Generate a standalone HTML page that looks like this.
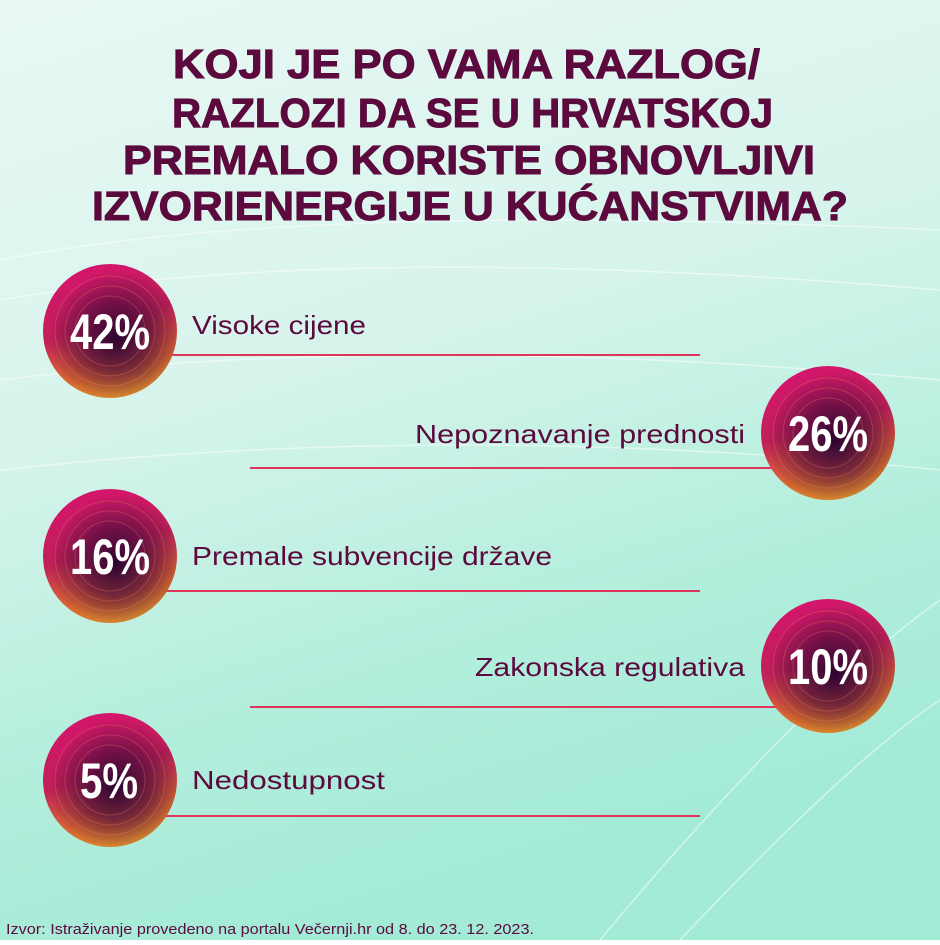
<!DOCTYPE html>
<html><head><meta charset="utf-8"><style>
html,body{margin:0;padding:0}
body{width:940px;height:940px;overflow:hidden}
</style></head><body>
<svg width="940" height="940" viewBox="0 0 940 940" xmlns="http://www.w3.org/2000/svg">
<defs>
<linearGradient id="bg" x1="0" y1="0" x2="0.3" y2="1">
<stop offset="0" stop-color="#eaf8f4"/>
<stop offset="0.45" stop-color="#d6f4ec"/>
<stop offset="0.75" stop-color="#b4eedd"/>
<stop offset="1" stop-color="#a3ebd7"/>
</linearGradient>
<linearGradient id="cg" x1="0.3" y1="0" x2="0.6" y2="1">
<stop offset="0" stop-color="#d6146e"/>
<stop offset="0.45" stop-color="#c02058"/>
<stop offset="0.8" stop-color="#e0702e"/>
<stop offset="1" stop-color="#f0a02a"/>
</linearGradient>
<radialGradient id="cd" cx="0.55" cy="0.55" r="0.5">
<stop offset="0" stop-color="#2a0530" stop-opacity="1"/>
<stop offset="0.5" stop-color="#4a0a3c" stop-opacity="0.7"/>
<stop offset="1" stop-color="#4a0a3c" stop-opacity="0"/>
</radialGradient>
<g id="circ">
<circle r="67" fill="url(#cg)"/>
<circle r="67" fill="url(#cd)"/>
<circle r="55" fill="none" stroke="#ff9a60" stroke-opacity="0.25" stroke-width="1"/>
<circle r="45" fill="none" stroke="#ff9a60" stroke-opacity="0.25" stroke-width="1"/>
<circle r="35" fill="none" stroke="#ff9a60" stroke-opacity="0.25" stroke-width="1"/>
</g>
</defs>
<rect width="940" height="940" fill="url(#bg)"/>
<g fill="none" stroke="#ffffff" stroke-opacity="0.5" stroke-width="1.5">
<path d="M0 260 Q300 200 940 230"/>
<path d="M0 300 Q350 240 940 290"/>
<path d="M0 380 Q400 330 940 380"/>
<path d="M0 470 Q450 420 940 470"/>
<path d="M600 940 Q800 700 940 600"/>
<path d="M680 940 Q850 760 940 700"/>
</g>
<g font-family="'Liberation Sans',sans-serif" font-weight="bold" fill="#5c0a3e" font-size="41" stroke="#5c0a3e" stroke-width="1">
<text x="173" y="78" textLength="587" lengthAdjust="spacingAndGlyphs">KOJI JE PO VAMA RAZLOG/</text>
<text x="172" y="127" textLength="601" lengthAdjust="spacingAndGlyphs">RAZLOZI DA SE U HRVATSKOJ</text>
<text x="123" y="174" textLength="692" lengthAdjust="spacingAndGlyphs">PREMALO KORISTE OBNOVLJIVI</text>
<text x="92" y="220" textLength="756" lengthAdjust="spacingAndGlyphs">IZVORIENERGIJE U KUĆANSTVIMA?</text>
</g>
<g stroke="#e0345a" stroke-width="2">
<line x1="165" y1="355" x2="700" y2="355"/>
<line x1="250" y1="468" x2="780" y2="468"/>
<line x1="165" y1="591" x2="700" y2="591"/>
<line x1="250" y1="707" x2="780" y2="707"/>
<line x1="165" y1="816" x2="700" y2="816"/>
</g>
<use href="#circ" x="110" y="331"/>
<use href="#circ" x="828" y="433"/>
<use href="#circ" x="110" y="556"/>
<use href="#circ" x="828" y="666"/>
<use href="#circ" x="110" y="780"/>
<g font-family="'Liberation Sans Narrow','Liberation Sans',sans-serif" font-weight="bold" fill="#fff" font-size="50">
<text x="70" y="349" textLength="80" lengthAdjust="spacingAndGlyphs">42%</text>
<text x="788" y="451" textLength="80" lengthAdjust="spacingAndGlyphs">26%</text>
<text x="70" y="574" textLength="80" lengthAdjust="spacingAndGlyphs">16%</text>
<text x="788" y="684" textLength="80" lengthAdjust="spacingAndGlyphs">10%</text>
<text x="80" y="798" textLength="58" lengthAdjust="spacingAndGlyphs">5%</text>
</g>
<g font-family="'Liberation Sans',sans-serif" fill="#5c0a3e" font-size="26">
<text x="192" y="334" textLength="174" lengthAdjust="spacingAndGlyphs">Visoke cijene</text>
<text x="415" y="443" textLength="330" lengthAdjust="spacingAndGlyphs">Nepoznavanje prednosti</text>
<text x="192" y="565" textLength="360" lengthAdjust="spacingAndGlyphs">Premale subvencije države</text>
<text x="475" y="676" textLength="270" lengthAdjust="spacingAndGlyphs">Zakonska regulativa</text>
<text x="192" y="789" textLength="193" lengthAdjust="spacingAndGlyphs">Nedostupnost</text>
</g>
<text x="6" y="934" font-family="'Liberation Sans',sans-serif" font-size="15" fill="#5c0a3e" textLength="528" lengthAdjust="spacingAndGlyphs">Izvor: Istraživanje provedeno na portalu Večernji.hr od 8. do 23. 12. 2023.</text>
</svg>
</body></html>
